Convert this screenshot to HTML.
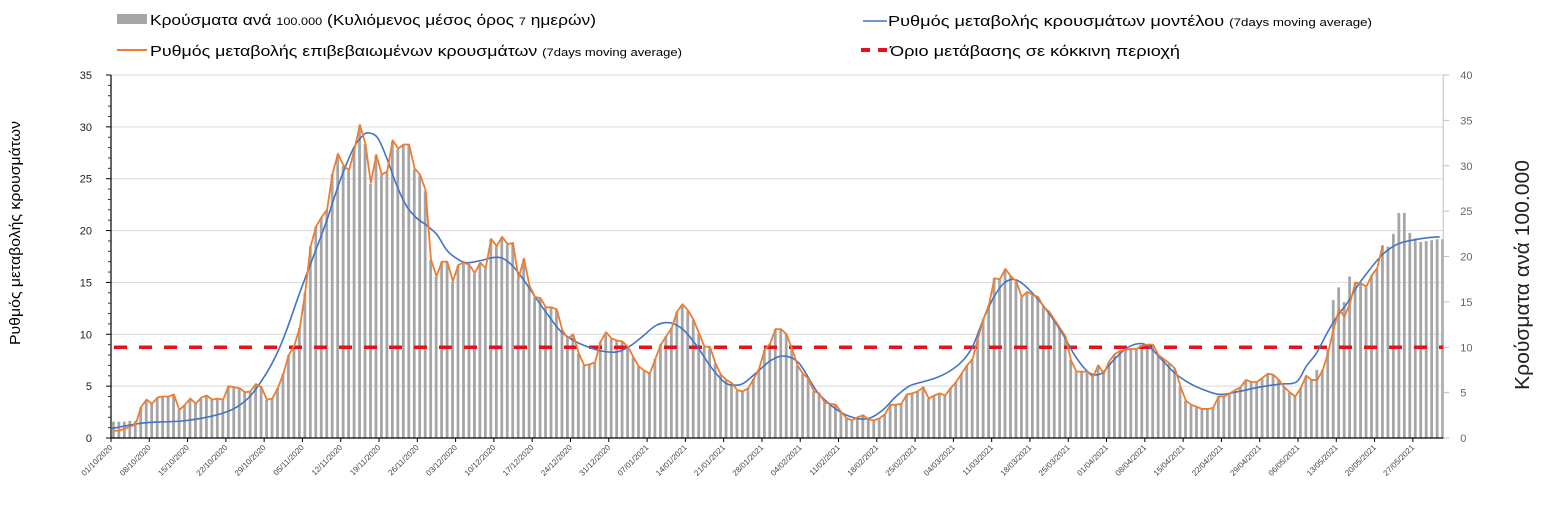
<!DOCTYPE html>
<html><head><meta charset="utf-8"><style>
html,body{margin:0;padding:0;background:#fff;width:1546px;height:524px;overflow:hidden}
svg text{font-family:"Liberation Sans",sans-serif}
</style></head><body>
<svg id="chart" width="1546" height="524" xmlns="http://www.w3.org/2000/svg">
<g id="legend">
  <g>
    <rect x="117" y="14" width="30" height="10" fill="#a6a6a6"/>
    <text x="150" y="25" font-size="15" textLength="446" lengthAdjust="spacingAndGlyphs">Κρούσματα ανά <tspan font-size="11">100.000</tspan> (Κυλιόμενος μέσος όρος <tspan font-size="11">7</tspan> ημερών)</text>
  </g>
  <g>
    <line x1="117" y1="50" x2="147" y2="50" stroke="#ed7d31" stroke-width="2"/>
    <text x="150" y="56" font-size="15" textLength="532" lengthAdjust="spacingAndGlyphs">Ρυθμός μεταβολής επιβεβαιωμένων κρουσμάτων <tspan font-size="11">(7days moving average)</tspan></text>
  </g>
  <g>
    <line x1="863" y1="21" x2="887" y2="21" stroke="#4472c4" stroke-width="1.5"/>
    <text x="888" y="26" font-size="15" textLength="484" lengthAdjust="spacingAndGlyphs">Ρυθμός μεταβολής κρουσμάτων μοντέλου <tspan font-size="11">(7days moving average)</tspan></text>
  </g>
  <g>
    <line x1="861" y1="50" x2="890" y2="50" stroke="#e8101a" stroke-width="4" stroke-dasharray="9,8"/>
    <text x="890" y="56" font-size="15" textLength="290" lengthAdjust="spacingAndGlyphs">Όριο μετάβασης σε κόκκινη περιοχή</text>
  </g>
</g>
<text transform="translate(20,233) rotate(-90)" text-anchor="middle" font-size="15" textLength="224" lengthAdjust="spacingAndGlyphs">Ρυθμός μεταβολής κρουσμάτων</text>
<text transform="translate(1529,275) rotate(-90)" text-anchor="middle" font-size="20" fill="#222" textLength="230" lengthAdjust="spacingAndGlyphs">Κρούσματα ανά 100.000</text>
<g id="grid"></g><g id="bars"></g><g id="axes"></g><g id="lines"></g>
</svg>
<script>
const barValues=[
1.8,1.8,1.8,1.9,1.9,3.4,4.2,3.8,4.4,4.6,
4.6,4.8,3.1,3.6,4.3,3.8,4.4,4.7,4.2,4.3,
4.2,5.7,5.6,5.5,5.0,5.1,5.9,5.6,4.2,4.3,
5.5,7.1,9.1,10.1,12.1,16,21.1,23.3,24.3,25.1,
29.1,31.2,30,29.4,31.7,34.4,32.4,28,31.1,29,
29.3,32.7,31.8,32.3,32.3,29.6,29,27.2,19.6,17.8,
19.4,19.4,17.2,19,19.3,19,18.1,19.3,18.7,21.9,
21.1,22.1,21.3,21.4,17.6,19.7,16.8,15.5,15.4,14.4,
14.4,14.1,11.9,10.9,11.4,9.3,8,8.1,8.3,10.6,
11.6,10.9,10.7,10.6,10,8.9,7.9,7.4,7.1,8.7,
10.3,11.2,12.1,13.9,14.7,14,13,11.5,10,10,
8.2,7,6.4,6,5.2,5.1,5.5,6.5,7.6,9.7,
10.4,12,12,11.4,9.8,8,7.1,6.5,5.1,4.9,
3.9,3.8,3.6,2.9,2.2,1.9,2.3,2.5,2.1,1.9,
2.2,2.6,3.6,3.6,3.8,4.8,4.9,5.1,5.6,4.3,
4.7,4.9,4.7,5.5,6.2,7.1,8,8.7,10.9,13.1,
14.6,17.6,17.4,18.6,17.8,17.2,15.5,16.1,15.7,15.5,
14.4,13.9,13,12.1,11.2,8.6,7.3,7.3,7.3,6.7,
8,7.1,8.4,9.2,9.6,9.7,9.8,9.8,10.1,10.3,
10.3,9.1,8.7,8.2,7.6,5.7,4.1,3.6,3.4,3.2,
3.2,3.3,4.6,4.6,4.9,5.2,5.6,6.4,6.2,6.2,
6.6,7.1,7,6.4,5.6,5,4.6,5.5,6.8,6.4,
7.5,7.5,9.8,15.2,16.6,15,17.8,17.1,17,16.6,
17.9,18.7,21.2,21.1,22.5,24.8,24.8,22.6,22.0,21.6,
21.7,21.8,21.9,21.9];
const orangeValues=[
0.7,0.7,0.9,1.1,1.3,3.0,3.7,3.3,3.9,4.0,
4.0,4.2,2.7,3.2,3.8,3.3,3.9,4.1,3.7,3.8,
3.7,5.0,4.9,4.8,4.4,4.5,5.2,4.9,3.7,3.8,
4.8,6.2,8.0,8.9,10.6,14.0,18.5,20.4,21.3,22.0,
25.5,27.4,26.3,25.8,27.8,30.2,28.4,24.6,27.3,25.4,
25.7,28.7,27.9,28.3,28.3,26.0,25.4,23.9,17.2,15.6,
17.0,17.0,15.1,16.7,16.9,16.7,15.9,16.9,16.4,19.2,
18.5,19.4,18.7,18.8,15.4,17.3,14.7,13.6,13.5,12.6,
12.6,12.4,10.4,9.6,10.0,8.2,7.0,7.1,7.3,9.3,
10.2,9.6,9.4,9.3,8.8,7.8,6.9,6.5,6.2,7.6,
9.0,9.8,10.6,12.2,12.9,12.3,11.4,10.1,8.8,8.8,
7.2,6.1,5.6,5.3,4.6,4.5,4.8,5.7,6.7,8.5,
9.1,10.5,10.5,10.0,8.6,7.0,6.2,5.7,4.5,4.3,
3.4,3.3,3.2,2.5,1.9,1.7,2.0,2.2,1.8,1.7,
1.9,2.3,3.2,3.2,3.3,4.2,4.3,4.5,4.9,3.8,
4.1,4.3,4.1,4.8,5.4,6.2,7.0,7.6,9.6,11.5,
12.8,15.4,15.3,16.3,15.6,15.1,13.6,14.1,13.8,13.6,
12.6,12.2,11.4,10.6,9.8,7.5,6.4,6.4,6.4,5.9,
7.0,6.2,7.4,8.1,8.4,8.5,8.6,8.6,8.9,9.0,
9.0,8.0,7.6,7.2,6.7,5.0,3.6,3.2,3.0,2.8,
2.8,2.9,4.0,4.0,4.3,4.6,4.9,5.6,5.4,5.4,
5.8,6.2,6.1,5.6,4.9,4.4,4.0,4.8,6.0,5.6,
5.6,6.5,8.2,10.5,12.4,11.7,13.0,15.0,14.9,14.6,
15.7,16.4,18.6];
const blueDays=[0,4,7,14,21,25,28,30.3,32.1,34.5,37,39.4,41.8,44.3,46.1,47.3,48.8,50.4,52.2,54.1,55.9,57.7,59.6,61.4,63.5,65.1,67.5,69.9,71.7,73.6,75.5,77.3,79.7,82.2,84.6,87.1,89.5,92.5,95,97.4,99.8,102.3,104.7,107.2,109.6,112.1,113.9,115.7,118.2,120.7,123.1,125.8,128.9,131.3,133.7,136.2,138.6,141.1,143.5,145.9,148.3,150.8,153.2,155.6,157.5,159.3,161.1,163,164.8,166.6,169.1,171.5,173.9,176.4,178.8,181,183.1,185.5,187.9,189.8,192.2,194.6,197.1,199.5,202.7,206.3,209.9,213.6,216.7,218.5,220.4,222.3,224.1,226,227.8,229.6,232.1,233.9,235.7,238.2,240.6,242.9];
const blueValues=[0.9,1.3,1.5,1.7,2.5,3.8,5.9,8.1,10.4,14.0,17.5,20.9,24.7,27.9,29.2,29.4,28.9,27.0,24.4,22.3,21.2,20.5,19.6,18.1,17.2,16.9,17.1,17.4,17.3,16.5,15.2,13.8,12.0,10.3,9.4,8.8,8.4,8.3,8.9,9.9,10.9,11.1,10.4,8.8,6.9,5.4,5.1,5.3,6.4,7.5,7.9,7.2,4.6,3.3,2.4,1.9,1.9,2.7,4.0,5.0,5.4,5.8,6.4,7.4,8.8,11.2,13.3,14.8,15.3,14.9,13.6,12.0,10.1,7.8,6.3,6.2,7.4,8.6,9.1,8.8,7.5,6.2,5.3,4.7,4.2,4.5,4.9,5.2,5.4,6.9,8.2,10.1,11.7,13.0,14.6,15.9,17.5,18.3,18.8,19.1,19.3,19.4];
const leftTicks=[0,5,10,15,20,25,30,35];
const rightTicks=[0,5,10,15,20,25,30,35,40];
const dateLabels=["01/10/2020","08/10/2020","15/10/2020","22/10/2020","29/10/2020","05/11/2020","12/11/2020","19/11/2020","26/11/2020","03/12/2020","10/12/2020","17/12/2020","24/12/2020","31/12/2020","07/01/2021","14/01/2021","21/01/2021","28/01/2021","04/02/2021","11/02/2021","18/02/2021","25/02/2021","04/03/2021","11/03/2021","18/03/2021","25/03/2021","01/04/2021","08/04/2021","15/04/2021","22/04/2021","29/04/2021","06/05/2021","13/05/2021","20/05/2021","27/05/2021"];
const thresholdRight=10;

const NS="http://www.w3.org/2000/svg";
const X0=111,DAYPX=5.47,Y0=438,YT=75;
function xs(d){return X0+d*DAYPX;}
function yl(v){return Y0-(Y0-YT)*v/35;}
function yr(v){return Y0-(Y0-YT)*v/40;}
function mk(tag,attrs,parent){const e=document.createElementNS(NS,tag);for(const k in attrs)e.setAttribute(k,attrs[k]);parent.appendChild(e);return e;}
const grid=document.getElementById('grid'),bars=document.getElementById('bars'),axes=document.getElementById('axes'),lines=document.getElementById('lines');
const XR=xs(243)+3;
leftTicks.forEach(t=>{if(t===0)return;const g=mk('line',{x1:X0,x2:XR,y1:yl(t),y2:yl(t),stroke:'#d9d9d9','stroke-width':1},grid);

});
barValues.forEach((v,i)=>{const r=mk('rect',{x:xs(i)+1,y:yr(v),width:2.8,height:Y0-yr(v),fill:'#a6a6a6'},bars);

});
let ax=mk('line',{x1:X0,x2:X0,y1:YT,y2:Y0,stroke:'#000','stroke-width':1.2},axes);


for(let v=0;v<=35;v++){const major=v%5===0;mk('line',{x1:X0-(major?5:3),x2:X0,y1:yl(v),y2:yl(v),stroke:major?'#000':'#333','stroke-width':1},axes);}
leftTicks.forEach(t=>{const tx=mk('text',{x:92,y:yl(t)+4,'text-anchor':'end','font-size':11,fill:'#222'},axes);tx.textContent=t;

});
let axr=mk('line',{x1:XR,x2:XR,y1:YT,y2:Y0,stroke:'#bfbfbf','stroke-width':1},axes);


rightTicks.forEach(t=>{mk('line',{x1:XR,x2:XR+6,y1:yr(t),y2:yr(t),stroke:'#bfbfbf'},axes);
const tx=mk('text',{x:XR+17,y:yr(t)+4,'font-size':11,fill:'#666'},axes);tx.textContent=t;

});
let axx=mk('line',{x1:X0,x2:XR,y1:Y0,y2:Y0,stroke:'#000','stroke-width':1.2},axes);


dateLabels.forEach((l,i)=>{const x=xs(i*7);mk('line',{x1:x,x2:x,y1:Y0,y2:Y0+4,stroke:'#000'},axes);
const tx=mk('text',{x:x+2,y:Y0+10,'text-anchor':'end','font-size':8,fill:'#444',transform:`rotate(-45 ${x+2} ${Y0+10})`},axes);tx.textContent=l;

});
let th=mk('line',{x1:X0+3,x2:XR,y1:yr(thresholdRight),y2:yr(thresholdRight),stroke:'#e8101a','stroke-width':3.5,'stroke-dasharray':'13,12'},lines);


const bp=blueDays.map((d,i)=>[xs(d),yl(blueValues[i])]);
let d='M'+bp[0][0]+','+bp[0][1];
for(let i=0;i<bp.length-1;i++){const p0=bp[Math.max(0,i-1)],p1=bp[i],p2=bp[i+1],p3=bp[Math.min(bp.length-1,i+2)];
const c1=[p1[0]+(p2[0]-p0[0])/6,p1[1]+(p2[1]-p0[1])/6],c2=[p2[0]-(p3[0]-p1[0])/6,p2[1]-(p3[1]-p1[1])/6];
d+=`C${c1[0]},${c1[1]} ${c2[0]},${c2[1]} ${p2[0]},${p2[1]}`;}
let bl=mk('path',{d:d,fill:'none',stroke:'#4472c4','stroke-width':1.6},lines);


let od=orangeValues.map((v,i)=>(i?'L':'M')+xs(i+0.5)+','+yl(v)).join('');
let ol=mk('path',{d:od,fill:'none',stroke:'#ed7d31','stroke-width':1.8,'stroke-linejoin':'round'},lines);


</script>
</body></html>
